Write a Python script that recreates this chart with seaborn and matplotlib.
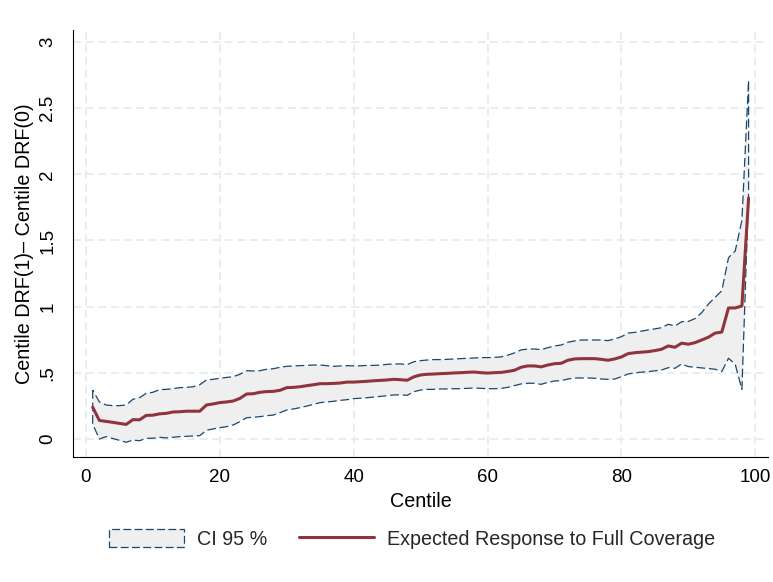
import matplotlib
matplotlib.use("Agg")
import matplotlib.pyplot as plt
import pandas as pd
import seaborn as sns

# Centile positions 1..99
centile = list(range(1, 100))

# Expected response to full coverage at each centile
response = [
    0.240, 0.140, 0.133, 0.126, 0.118, 0.110, 0.146, 0.145, 0.178, 0.180,
    0.190, 0.194, 0.204, 0.206, 0.210, 0.210, 0.210, 0.257, 0.265, 0.275,
    0.280, 0.287, 0.307, 0.340, 0.342, 0.353, 0.358, 0.360, 0.368, 0.388,
    0.390, 0.395, 0.403, 0.410, 0.418, 0.418, 0.420, 0.423, 0.430, 0.430,
    0.433, 0.436, 0.440, 0.443, 0.446, 0.451, 0.448, 0.444, 0.470, 0.484,
    0.489, 0.491, 0.494, 0.496, 0.499, 0.501, 0.504, 0.506, 0.501, 0.498,
    0.501, 0.503, 0.510, 0.519, 0.542, 0.552, 0.552, 0.545, 0.559, 0.569,
    0.572, 0.595, 0.605, 0.607, 0.607, 0.607, 0.602, 0.595, 0.605, 0.620,
    0.645, 0.652, 0.656, 0.660, 0.668, 0.678, 0.703, 0.693, 0.724, 0.716,
    0.728, 0.748, 0.769, 0.800, 0.808, 0.990, 0.990, 1.005, 1.820,
]

# Upper bound of the 95% confidence band
ci_upper = [
    0.370, 0.280, 0.257, 0.252, 0.252, 0.257, 0.300, 0.312, 0.345, 0.353,
    0.373, 0.375, 0.380, 0.388, 0.390, 0.395, 0.410, 0.446, 0.451, 0.459,
    0.465, 0.471, 0.489, 0.516, 0.514, 0.516, 0.527, 0.531, 0.542, 0.549,
    0.552, 0.554, 0.557, 0.559, 0.559, 0.554, 0.549, 0.552, 0.554, 0.552,
    0.553, 0.556, 0.556, 0.559, 0.564, 0.567, 0.567, 0.562, 0.584, 0.592,
    0.597, 0.600, 0.600, 0.602, 0.605, 0.607, 0.610, 0.612, 0.615, 0.615,
    0.617, 0.620, 0.633, 0.650, 0.673, 0.680, 0.680, 0.675, 0.690, 0.703,
    0.710, 0.731, 0.741, 0.748, 0.748, 0.748, 0.748, 0.743, 0.756, 0.773,
    0.800, 0.806, 0.815, 0.824, 0.832, 0.841, 0.867, 0.854, 0.886, 0.888,
    0.910, 0.955, 1.020, 1.070, 1.120, 1.370, 1.420, 1.650, 2.710,
]

# Lower bound of the 95% confidence band
ci_lower = [
    0.113, 0.000, 0.018, 0.004, -0.010, -0.025, -0.008, -0.013, 0.005, 0.006,
    0.013, 0.008, 0.013, 0.018, 0.020, 0.023, 0.025, 0.066, 0.076, 0.086,
    0.093, 0.106, 0.131, 0.161, 0.164, 0.169, 0.176, 0.181, 0.199, 0.219,
    0.227, 0.237, 0.249, 0.262, 0.275, 0.280, 0.285, 0.292, 0.297, 0.305,
    0.308, 0.312, 0.317, 0.322, 0.327, 0.333, 0.333, 0.330, 0.358, 0.370,
    0.375, 0.375, 0.378, 0.378, 0.380, 0.380, 0.383, 0.385, 0.383, 0.380,
    0.380, 0.382, 0.390, 0.403, 0.416, 0.421, 0.421, 0.413, 0.428, 0.438,
    0.441, 0.453, 0.461, 0.461, 0.461, 0.459, 0.453, 0.451, 0.453, 0.471,
    0.491, 0.500, 0.505, 0.509, 0.515, 0.521, 0.539, 0.534, 0.567, 0.547,
    0.542, 0.537, 0.532, 0.527, 0.510, 0.610, 0.565, 0.375, 1.850,
]

x_ticks = [0, 20, 40, 60, 80, 100]
y_ticks = [0, 0.5, 1, 1.5, 2, 2.5, 3]
y_tick_labels = ["0", ".5", "1", "1.5", "2", "2.5", "3"]

x_title = "Centile"
y_title = "Centile DRF(1)\u2013 Centile DRF(0)"
band_label = "CI 95 %"
line_label = "Expected Response to Full Coverage"

sns.set_theme(style="white")
plt.rcParams["font.family"] = ["Liberation Sans", "DejaVu Sans"]

df = pd.DataFrame({
    "Centile": centile,
    "response": response,
    "lo": ci_lower,
    "hi": ci_upper,
})

W, H = 773, 582
fig = plt.figure(figsize=(W / 100, H / 100), dpi=100)
ax = fig.add_axes([73 / W, 1 - 457 / H, (768 - 73) / W, (457 - 30) / H])

# Confidence band: light fill with a dashed navy outline
ax.fill_between(
    df["Centile"], df["lo"], df["hi"],
    facecolor="#efefef", edgecolor="#1a476f",
    linestyle=(0, (7, 3)), linewidth=0.9,
    label=band_label, zorder=2,
)

# Expected response line
sns.lineplot(
    data=df, x="Centile", y="response",
    color="#8f343b", linewidth=2.2,
    label=line_label, ax=ax, zorder=3,
)

ax.set_xlim(-1.94, 101.9)
ax.set_ylim(-0.136, 3.09)
ax.set_xticks(x_ticks)
ax.set_xticklabels([str(t) for t in x_ticks])
ax.set_yticks(y_ticks)
ax.set_yticklabels(y_tick_labels, rotation=90, va="center")

ax.grid(True, color="#e5edf0", linestyle=(0, (4.5, 2.5)), linewidth=1.3)
ax.set_axisbelow(True)

for side in ("top", "right"):
    ax.spines[side].set_visible(False)
for side in ("left", "bottom"):
    ax.spines[side].set_color("#000000")
    ax.spines[side].set_linewidth(0.8)

ax.tick_params(axis="both", direction="out", length=5, width=0.8,
               color="#000000", labelsize=13.5, labelcolor="#000000")
ax.tick_params(axis="y", pad=7)
ax.tick_params(axis="x", pad=4)

ax.set_xlabel(x_title, fontsize=14.2, color="#000000", labelpad=4)
ax.set_ylabel(y_title, fontsize=14.2, color="#000000", labelpad=4)

handles, labels = ax.get_legend_handles_labels()
leg = ax.get_legend()
if leg is not None:
    leg.remove()
fig.legend(
    handles, labels, loc="center",
    bbox_to_anchor=(412 / W, 1 - 539 / H),
    ncol=2, frameon=False, fontsize=14.2,
    handlelength=3.8, handleheight=1.05,
    handletextpad=0.65, columnspacing=1.6,
)

fig.savefig("out.png", dpi=100, facecolor="white")
